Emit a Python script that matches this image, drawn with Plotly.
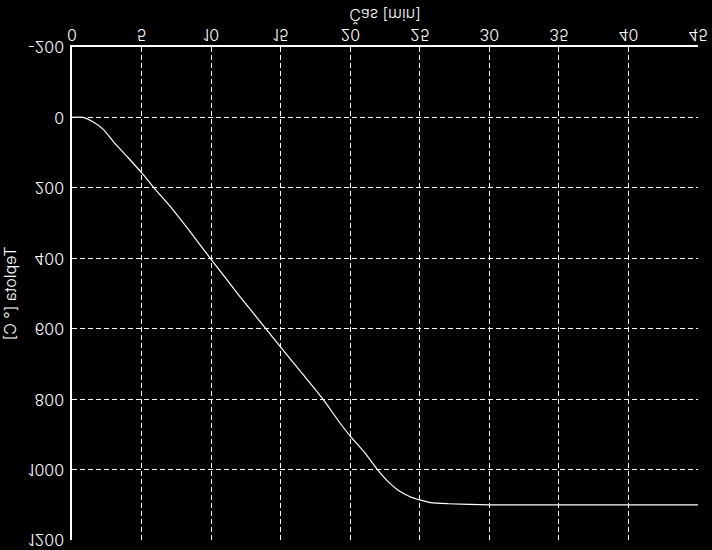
import plotly.graph_objects as go

# Data (time in minutes, temperature in °C)
time_min = [0, 0.8, 1.5, 2.25, 3, 4, 5, 6, 7, 8.5, 10, 12, 14, 15, 16.5, 18,
            19.25, 20, 21, 22, 22.8, 23.5, 24.3, 25, 25.8, 27, 30, 35, 40, 45]
temp_c = [0, 0, 12, 34, 70, 113, 157, 205, 250, 325, 403, 505, 603, 652, 725, 798,
          867, 905, 950, 1002, 1037, 1060, 1077, 1086, 1094, 1097, 1100, 1100, 1100, 1100]

x_ticks = [0, 5, 10, 15, 20, 25, 30, 35, 40, 45]
y_ticks = [-200, 0, 200, 400, 600, 800, 1000, 1200]

x_title = "Čas [min]"
y_title = "Teplota [° C]"

fig = go.Figure()
fig.add_trace(go.Scatter(x=time_min, y=temp_c, mode="lines", line_shape="spline",
                         line=dict(color="white", width=1.2, smoothing=0.6),
                         hoverinfo="skip"))

font_family = "Inter, Liberation Sans, DejaVu Sans, sans-serif"
fnt = dict(family=font_family, size=16, color="white", weight=300)

fig.update_layout(
    width=712, height=550,
    margin=dict(l=72, r=14, t=10, b=47, autoexpand=False),
    paper_bgcolor="black", plot_bgcolor="black",
    font=fnt,
    showlegend=False,
)
fig.update_xaxes(
    range=[0, 45], tickvals=x_ticks, ticktext=[str(v) for v in x_ticks],
    showgrid=True, gridcolor="white", griddash="5px,3px", gridwidth=1,
    showline=True, linecolor="white", linewidth=1.5, mirror=False,
    zeroline=False, ticks="inside", ticklen=4, tickcolor="white",
    ticklabelstandoff=-3, automargin=False, ticklabeloverflow="allow",
    tickfont=fnt,
    title=dict(text=x_title, standoff=6, font=fnt),
)
fig.update_yaxes(
    range=[-200, 1200], tickvals=y_ticks, ticktext=[str(v) for v in y_ticks],
    showgrid=True, gridcolor="white", griddash="5px,3px", gridwidth=1,
    showline=True, linecolor="white", linewidth=1.5, mirror=False,
    zeroline=False, ticks="inside", ticklen=4, tickcolor="white",
    ticklabelstandoff=3, automargin=False, ticklabeloverflow="allow",
    tickfont=fnt,
    title=dict(text=y_title, standoff=8, font=fnt),
)

post = ("var d=document.getElementById('{plot_id}');"
        "d.style.transform='scaleY(-1)';"
        "document.body.style.margin='0';"
        "document.body.style.background='black';")

fig.write_html("out.html", post_script=post, config={"displayModeBar": False})
